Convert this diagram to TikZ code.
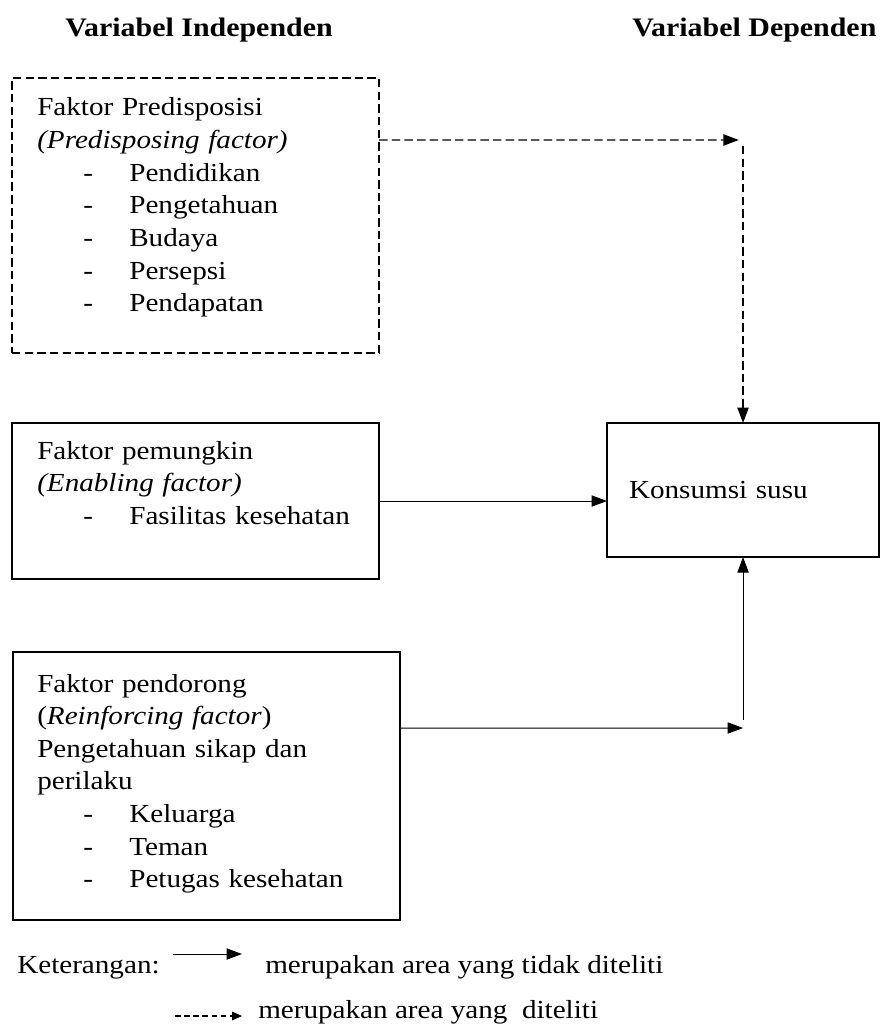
\documentclass[tikz,border=0pt]{standalone}
\usepackage{fontspec}
\setmainfont{Liberation Serif}[FakeStretch=1.12]
\usetikzlibrary{arrows.meta}
\tikzset{%
  kotak/.style={
    draw,
    line width=1pt,
    outer sep=0pt,
    inner sep=0pt
  },
  kotak putus/.style={
    kotak,
    dash pattern=on 6pt off 3pt
  },
  isi/.style={
    anchor=base west,
    inner sep=0pt,
    font=\fontsize{18.5}{23.2}\selectfont
  },
  isi panjang/.style={
    isi,
    text width=8.8cm,
    align=left
  },
  judul/.style={
    anchor=base west,
    inner sep=0pt,
    font=\bfseries\fontsize{19}{24}\selectfont
  },
  panah/.style={
    -{Triangle[length=11pt,width=8pt]},
    line width=0.7pt
  },
  panah putus/.style={
    panah,
    line width=1pt,
    dash pattern=on 6pt off 3pt
  },
}
\newcommand{\butir}[1]{\hspace*{1.15cm}\makebox[1.15cm][l]{-}#1}

\begin{document}
\begin{tikzpicture}[x=0.025cm, y=-0.025cm]
\useasboundingbox[fill=white] (0,0) rectangle (880,1030);

\node [judul] (indep) at (65,37) {Variabel Independen};
\node [judul] (dep) at (632,37) {Variabel Dependen};

% kotak faktor
\node [kotak putus, anchor=north west, minimum width=9.175cm, minimum height=6.875cm]
  (predis) at (12,78) {};
\node [isi panjang] (predis-isi) at (37,116) {Faktor Predisposisi\\
  \textit{(Predisposing factor)}\\
  \butir{Pendidikan}\\
  \butir{Pengetahuan}\\
  \butir{Budaya}\\
  \butir{Persepsi}\\
  \butir{Pendapatan}};

\node [kotak, anchor=north west, minimum width=9.175cm, minimum height=3.9cm]
  (pemungkin) at (12,423) {};
\node [isi panjang] (pemungkin-isi) at (37,459) {Faktor pemungkin\\
  \textit{(Enabling factor)}\\
  \butir{Fasilitas kesehatan}};

\node [kotak, anchor=north west, minimum width=9.675cm, minimum height=6.7cm]
  (pendorong) at (13,652) {};
\node [isi panjang] (pendorong-isi) at (37,692) {Faktor pendorong\\
  (\textit{Reinforcing factor})\\
  Pengetahuan sikap dan\\
  perilaku\\
  \butir{Keluarga}\\
  \butir{Teman}\\
  \butir{Petugas kesehatan}};

\node [kotak, anchor=north west, minimum width=6.8cm, minimum height=3.35cm,
  inner xsep=0.55cm, text width=5.7cm, align=left,
  font=\fontsize{18.5}{23.2}\selectfont] (konsumsi) at (607,423) {Konsumsi susu};

% panah
\coordinate (sudut1) at (konsumsi.north |- 0,140);
\coordinate (sudut2) at (konsumsi.south |- 0,728);
\draw [panah putus] ([yshift=-1.55cm]predis.north east) -- ([xshift=-3pt]sudut1);
\draw [panah putus] ([yshift=-0.15cm]sudut1) -- (konsumsi.north);
\draw [panah] (pemungkin.east) -- (pemungkin.east -| konsumsi.west);
\draw [panah] ([yshift=-1.9cm]pendorong.north east) -- (sudut2);
\draw [panah] ([yshift=0.2cm]sudut2) -- (konsumsi.south);

% keterangan
\node [isi] (ket) at (17,973) {Keterangan:};
\coordinate (leg1a) at (173,954);
\coordinate (leg1b) at (242,954);
\draw [panah] (leg1a) -- (leg1b);
\node [isi] (ket1) at (265,973) {merupakan area yang tidak diteliti};
\coordinate (leg2a) at (175,1016);
\coordinate (leg2b) at (242,1016);
\draw [panah putus, line width=0.8pt, dash pattern=on 4pt off 2.5pt,
  -{Triangle[length=7pt,width=6pt]}] (leg2a) -- (leg2b);
\node [isi] (ket2) at (258,1018) {merupakan area yang~ diteliti};
\end{tikzpicture}
\end{document}
